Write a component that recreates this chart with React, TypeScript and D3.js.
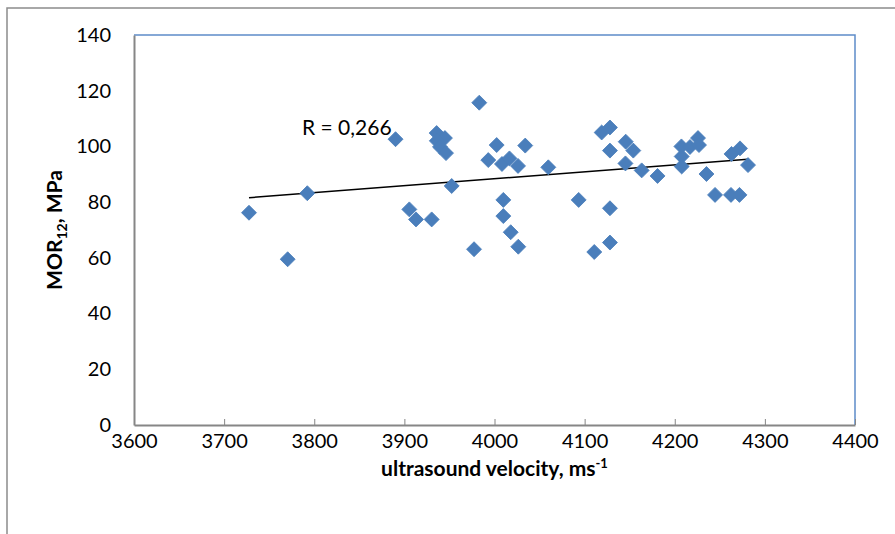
import * as d3 from 'd3';
import React, { useRef, useEffect } from 'react';

// ultrasound velocity (m/s) and MOR12 (MPa)
const velocity = [
    3727.6, 3770.5, 3792.3, 3890.2, 3983.1, 3935.8, 3945.0, 3936.0, 3939.5, 3946.2,
    4002.4, 4034.1, 3993.1, 4008.3, 4016.6, 4026.1, 4059.7, 3952.5, 3905.5, 3912.9,
    3930.3, 3977.3, 4009.8, 4009.8, 4018.0, 4026.4, 4093.4, 4110.7, 4128.1, 4128.1,
    4118.9, 4128.1, 4128.1, 4145.6, 4154.0, 4145.3, 4163.3, 4180.9, 4207.4, 4207.7,
    4207.7, 4216.9, 4225.8, 4226.9, 4235.2, 4244.7, 4263.0, 4272.4, 4281.3, 4262.4,
    4271.8
];
const mor = [
    76.2, 59.5, 83.2, 102.6, 115.7, 104.8, 103.0, 102.0, 99.8, 97.6,
    100.5, 100.3, 95.1, 93.7, 95.7, 93.0, 92.5, 85.8, 77.4, 73.8,
    73.8, 63.1, 80.8, 75.0, 69.2, 64.0, 80.8, 62.1, 77.8, 65.5,
    105.0, 106.8, 98.5, 101.7, 98.5, 93.9, 91.4, 89.4, 100.0, 96.4,
    92.8, 99.8, 103.0, 100.5, 90.1, 82.6, 97.3, 99.3, 93.3, 82.6,
    82.6
];
// linear trendline ends as drawn in the chart
const trendX = [3727.6, 4281.0];
const trendY = [81.6, 95.4];

const xTicks = [3600, 3700, 3800, 3900, 4000, 4100, 4200, 4300, 4400];
const yTicks = [0, 20, 40, 60, 80, 100, 120, 140];

const FONT = 'Lato, "Open Sans", sans-serif';

const Chart = ({ width, height }: { width: number; height: number }) => {
    const svgRef = useRef<SVGSVGElement>(null);
    useEffect(() => {
        draw();
    }, []);

    const draw = () => {
        const svg = d3.select(svgRef.current);
        svg.selectAll('*').remove();

        const plot = { left: 134, right: 855, top: 35, bottom: 425 };

        const xScale = d3.scaleLinear().domain([3600, 4400]).range([plot.left, plot.right]);
        const yScale = d3.scaleLinear().domain([0, 140]).range([plot.bottom, plot.top]);

        svg.append('rect')
            .attr('width', width).attr('height', height).attr('fill', 'white');

        // outer chart frame
        svg.append('rect')
            .attr('x', 7).attr('y', 8)
            .attr('width', width + 20).attr('height', height + 20)
            .attr('fill', 'none').attr('stroke', '#8c8c8c').attr('stroke-width', 1.5);

        // plot area border, top and right
        svg.append('path')
            .attr('d', `M${plot.left},${plot.top}H${plot.right}V${plot.bottom}`)
            .attr('fill', 'none').attr('stroke', '#5d8cc9').attr('stroke-width', 1.5);

        // x axis with inward ticks
        const xAxis = d3.axisBottom(xScale).tickValues(xTicks).tickFormat(d3.format('d'))
            .tickSizeInner(-6).tickSizeOuter(0).tickPadding(9);
        const gx = svg.append('g').attr('transform', `translate(0, ${plot.bottom})`).call(xAxis);
        gx.select('.domain').attr('stroke', '#868686').attr('stroke-width', 2);
        gx.selectAll('.tick line').attr('stroke', '#868686');
        gx.selectAll('.tick text')
            .attr('font-family', FONT).attr('font-size', 20).attr('fill', '#000');

        const yAxis = d3.axisLeft(yScale).tickValues(yTicks).tickSize(0).tickPadding(23);
        const gy = svg.append('g').attr('transform', `translate(${plot.left}, 0)`).call(yAxis);
        gy.select('.domain').attr('stroke', '#868686').attr('stroke-width', 2);
        gy.selectAll('.tick text')
            .attr('font-family', FONT).attr('font-size', 20).attr('fill', '#000');

        // trendline
        svg.append('line')
            .attr('x1', xScale(trendX[0])).attr('y1', yScale(trendY[0]))
            .attr('x2', xScale(trendX[1])).attr('y2', yScale(trendY[1]))
            .attr('stroke', '#000').attr('stroke-width', 1.5);

        const points = velocity.map((v, i) => ({ v, m: mor[i] }));
        const diamond = d3.symbol(d3.symbolSquare, 112)();
        svg.append('g')
            .selectAll('path')
            .data(points)
            .enter()
            .append('path')
            .attr('d', diamond)
            .attr('transform', (d) => `translate(${xScale(d.v)}, ${yScale(d.m)}) rotate(45)`)
            .attr('fill', '#4a7ebb')
            .attr('stroke', '#4a7ebb')
            .attr('stroke-width', 0.8);

        svg.append('text')
            .attr('x', 302).attr('y', 135)
            .attr('font-family', FONT).attr('font-size', 21)
            .text('R = 0,266');

        // axis titles
        const yt = svg.append('text')
            .attr('transform', `translate(62, ${(plot.top + plot.bottom) / 2}) rotate(-90)`)
            .attr('text-anchor', 'middle')
            .attr('font-family', FONT).attr('font-size', 21).attr('font-weight', 'bold');
        yt.append('tspan').text('MOR');
        yt.append('tspan').attr('font-size', 14).attr('dy', 5).text('12');
        yt.append('tspan').attr('dy', -5).text(', MPa');

        const xt = svg.append('text')
            .attr('x', (plot.left + plot.right) / 2).attr('y', 476)
            .attr('text-anchor', 'middle')
            .attr('font-family', FONT).attr('font-size', 21).attr('font-weight', 'bold');
        xt.append('tspan').text('ultrasound velocity,  ms');
        xt.append('tspan').attr('font-size', 13).attr('dy', -8).text('-1');
    };

    return (
        <svg ref={svgRef} width={width} height={height}
            style={{ position: 'absolute', left: 0, top: 0, display: 'block' }}>
        </svg>
    );
};

export default function App() {
    return <Chart width={895} height={534} />;
}
